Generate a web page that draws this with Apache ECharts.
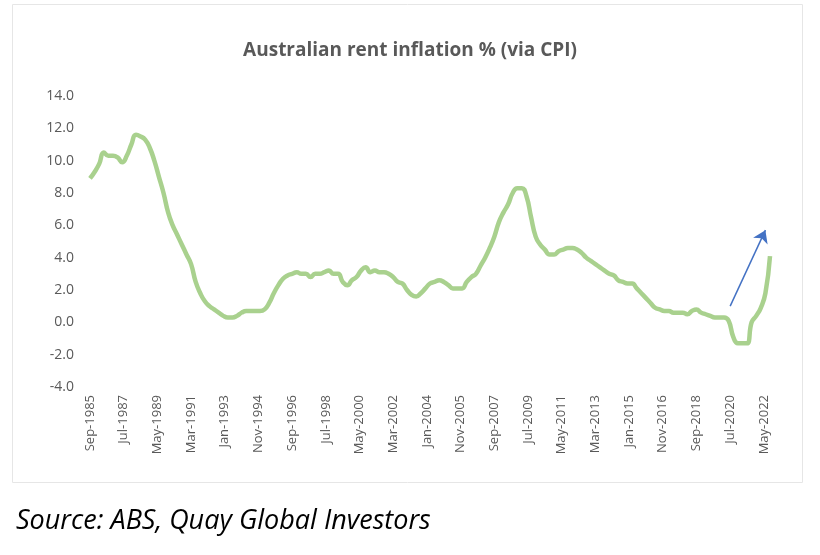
<!DOCTYPE html>
<html><head><meta charset="utf-8">
<script src="https://cdn.jsdelivr.net/npm/echarts@6/dist/echarts.min.js"></script>
<style>html,body{margin:0;padding:0;background:#fff}#c{width:820px;height:555px}</style>
</head><body><div id="c"></div>
<script>
const monthNames = ['Jan','Feb','Mar','Apr','May','Jun','Jul','Aug','Sep','Oct','Nov','Dec'];
// Quarterly rent inflation (%) Sep-1985 .. Sep-2022
const quarterlyValues = [
  8.9, 9.3,
  9.8, 10.5, 10.3, 10.3,
  10.2, 9.9, 10.3, 11.0,
  11.6, 11.5, 11.3, 10.8,
  10.0, 9.0, 8.0, 6.8,
  6.0, 5.4, 4.8, 4.2,
  3.6, 2.5, 1.8, 1.3,
  1.0, 0.8, 0.6, 0.4,
  0.3, 0.3, 0.4, 0.6,
  0.7, 0.7, 0.7, 0.7,
  0.8, 1.2, 1.8, 2.3,
  2.7, 2.9, 3.0, 3.1,
  3.0, 3.0, 2.8, 3.0,
  3.0, 3.1, 3.2, 3.0,
  3.0, 2.5, 2.3, 2.6,
  2.8, 3.2, 3.4, 3.1,
  3.2, 3.1, 3.1, 3.0,
  2.8, 2.5, 2.4, 2.0,
  1.7, 1.6, 1.8, 2.1,
  2.4, 2.5, 2.6, 2.5,
  2.3, 2.1, 2.1, 2.1,
  2.5, 2.8, 3.0, 3.5,
  4.0, 4.6, 5.3, 6.2,
  6.8, 7.3, 8.0, 8.3,
  8.3, 7.8, 6.5, 5.3,
  4.8, 4.5, 4.2, 4.2,
  4.4, 4.5, 4.6, 4.6,
  4.5, 4.3, 4.0, 3.8,
  3.6, 3.4, 3.2, 3.0,
  2.9, 2.6, 2.5, 2.4,
  2.4, 2.1, 1.8, 1.5,
  1.2, 0.9, 0.8, 0.7,
  0.7, 0.6, 0.6, 0.6,
  0.5, 0.7, 0.8, 0.6,
  0.5, 0.4, 0.3, 0.3,
  0.3, 0.1, -0.9, -1.3,
  -1.3, -1.3, 0.0, 0.4,
  0.9, 1.8, 4.1
];
const startYear = 1985, startMonth = 8; // Sep
const categories = [];
const monthlySeries = [];
for (let i = 0; i < (quarterlyValues.length - 1) * 3 + 1; i++) {
  const m = (startMonth + i) % 12, y = startYear + Math.floor((startMonth + i) / 12);
  categories.push(monthNames[m] + '-' + y);
  monthlySeries.push(i % 3 === 0 ? quarterlyValues[i / 3] : null);
}
const arrowFrom = ['Jul-2020', 1.0], arrowTo = ['Jun-2022', 5.7];

const chart = echarts.init(document.getElementById('c'));
chart.setOption({
  animation: false,
  title: { text: 'Australian rent inflation % (via CPI)', left: 'center', top: 36,
    textStyle: { fontFamily: 'Open Sans', fontSize: 19, fontWeight: 'bold', color: '#595959' } },
  grid: { left: 90, right: 50, top: 96, bottom: 168 },
  xAxis: { type: 'category', data: categories, boundaryGap: false,
    axisLine: { show: false }, axisTick: { show: false },
    axisLabel: { rotate: 90, interval: 21, color: '#595959', fontFamily: 'Open Sans', fontSize: 13, margin: 8 } },
  yAxis: { type: 'value', min: -4, max: 14, interval: 2,
    axisLine: { show: false }, axisTick: { show: false }, splitLine: { show: false },
    axisLabel: { formatter: v => v.toFixed(1), color: '#595959', fontFamily: 'Open Sans', fontSize: 14, margin: 16 } },
  series: [{ type: 'line', data: monthlySeries, connectNulls: true, smooth: 0.5, showSymbol: false,
    lineStyle: { color: '#a9d18e', width: 4.5 },
    markLine: { silent: true, symbol: ['none', 'arrow'], symbolSize: 12, label: { show: false },
      lineStyle: { color: '#4472c4', width: 1.5, type: 'solid' },
      data: [[{ coord: arrowFrom }, { coord: arrowTo }]] } }],
  graphic: [
    { type: 'rect', left: 10, top: 2, shape: { width: 790, height: 478 }, style: { fill: 'none', stroke: '#e6e6e6', lineWidth: 1 } },
    { type: 'text', left: 16, top: 508, style: { text: 'Source: ABS, Quay Global Investors', font: 'italic 27px "Open Sans"', fill: '#000' } }
  ]
});
</script></body></html>
